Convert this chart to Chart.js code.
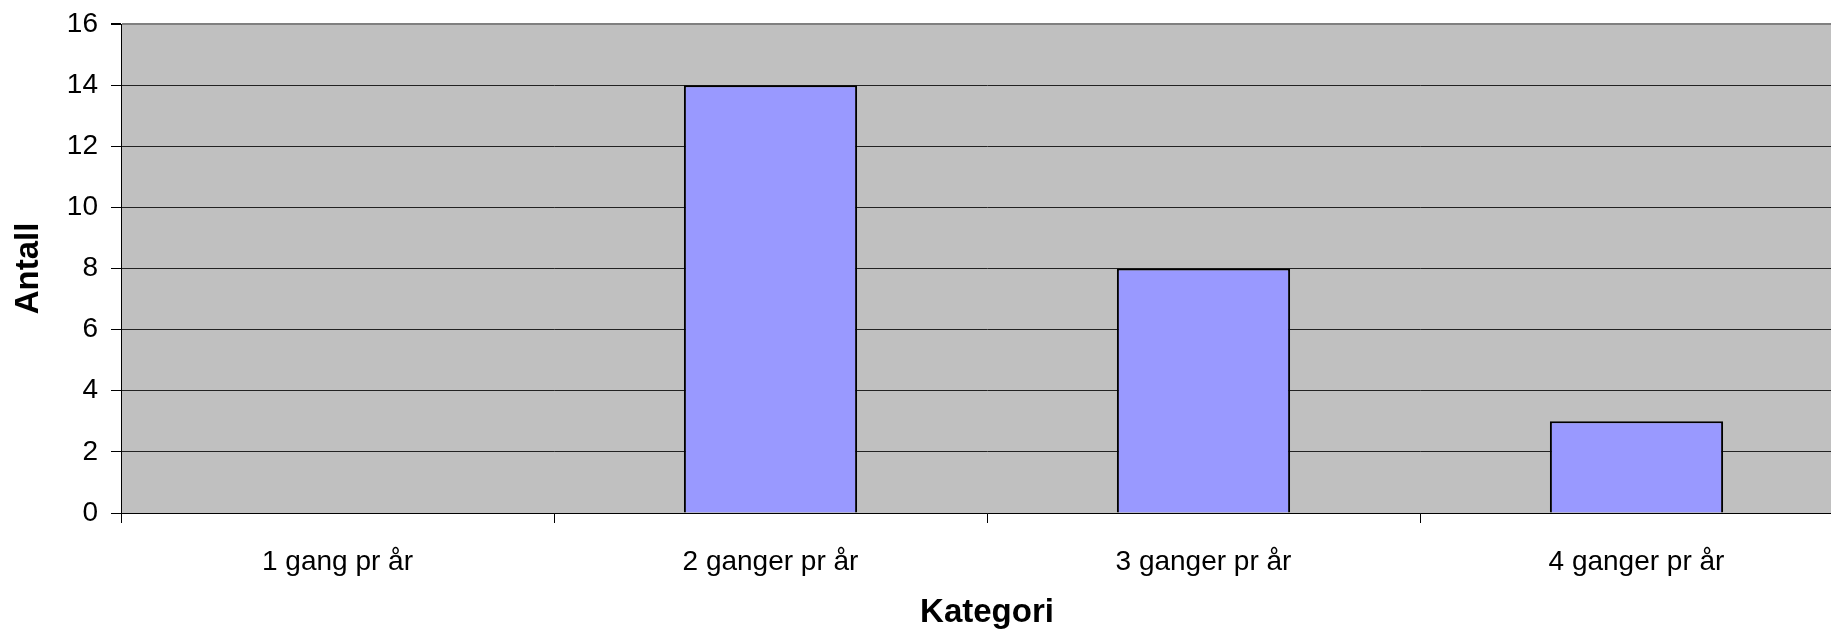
<!DOCTYPE html>
<html>
<head>
<meta charset="utf-8">
<script src="https://cdn.jsdelivr.net/npm/chart.js@4"></script>
<style>
  html, body { margin: 0; padding: 0; background: #fff; overflow: hidden; }
</style>
</head>
<body>
<canvas id="barchart" width="1853" height="635"></canvas>
<script>
const categories = ['1 gang pr år', '2 ganger pr år', '3 ganger pr år', '4 ganger pr år'];
const antall = [0, 14, 8, 3];

// grey plot area like the old Excel default
const plotBg = {
  id: 'plotBg',
  beforeDraw(chart) {
    const a = chart.chartArea;
    const c = chart.ctx;
    c.save();
    c.fillStyle = '#c0c0c0';
    c.fillRect(a.left, a.top, a.right - a.left, a.bottom - a.top);
    c.restore();
  }
};

const ctx = document.getElementById('barchart').getContext('2d');
const barchart = new Chart(ctx, {
  type: 'bar',
  data: {
    labels: categories,
    datasets: [{
      label: 'Antall',
      data: antall,
      backgroundColor: '#9999ff',
      borderColor: '#000',
      borderWidth: 2,
      barPercentage: 0.4,
      categoryPercentage: 1
    }]
  },
  options: {
    responsive: false,
    animation: false,
    devicePixelRatio: 1,
    layout: { padding: { top: 24, left: 0, right: 0, bottom: 0 } },
    plugins: {
      legend: { display: false },
      tooltip: { enabled: false }
    },
    scales: {
      x: {
        afterFit: (scale) => { scale.height = 122; },
        grid: { drawOnChartArea: false, tickLength: 10, color: '#000', offset: true },
        border: { color: '#000', width: 1 },
        ticks: {
          color: '#000',
          padding: 22,
          maxRotation: 0,
          font: { family: '"Liberation Sans", Arial, sans-serif', size: 28 }
        },
        title: {
          display: true,
          text: 'Kategori',
          color: '#000',
          padding: { top: 0, bottom: 2 },
          font: { family: '"Liberation Sans", Arial, sans-serif', size: 33, weight: 'bold' }
        }
      },
      y: {
        min: 0,
        max: 16,
        afterFit: (scale) => {
          scale.width = 121;
          scale.paddingTop = 0;
          scale.paddingBottom = 0;
        },
        grid: {
          tickLength: 10,
          tickColor: '#000',
          color: (c) => c.tick && c.tick.value === 16 ? '#808080' : '#222',
          lineWidth: (c) => c.tick && c.tick.value === 16 ? 2 : 1
        },
        border: { color: '#000', width: 1 },
        ticks: {
          stepSize: 2,
          color: '#000',
          padding: 13,
          font: { family: '"Liberation Sans", Arial, sans-serif', size: 28 }
        },
        title: {
          display: true,
          text: 'Antall',
          color: '#000',
          padding: { top: 9, bottom: 0 },
          font: { family: '"Liberation Sans", Arial, sans-serif', size: 33, weight: 'bold' }
        }
      }
    }
  },
  plugins: [plotBg]
});
</script>
</body>
</html>
